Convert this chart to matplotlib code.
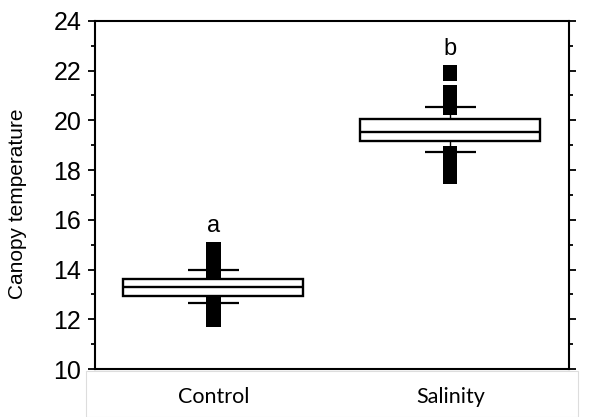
import matplotlib
matplotlib.use("Agg")
import matplotlib.pyplot as plt
from matplotlib.patches import Rectangle
from matplotlib.ticker import MultipleLocator

groups = ['Control', 'Salinity']
q1 = [12.94, 19.17]
medians = [13.31, 19.53]
q3 = [13.62, 20.05]
whisk_lo = [12.66, 18.74]
whisk_hi = [13.97, 20.55]
# dense outlier columns, drawn as solid black ranges (low, high)
outlier_ranges = [
    [(11.70, 12.94), (13.62, 15.12)],
    [(17.43, 18.98), (20.22, 21.41), (21.60, 22.23)],
]
letters = ['a', 'b']
letter_y = [15.75, 22.85]

pos = [1, 2]
box_w = 0.76
cap_w = 0.215
col_w = 0.06

fig = plt.figure(figsize=(5.98, 4.17), dpi=100)
ax = fig.add_axes([0.159, 0.115, 0.792, 0.835])

for i, x in enumerate(pos):
    # whisker line and caps
    ax.vlines(x, whisk_lo[i], q1[i], color='black', lw=1.0, zorder=1)
    ax.vlines(x, q3[i], whisk_hi[i], color='black', lw=1.0, zorder=1)
    for lo, hi in outlier_ranges[i]:
        ax.bar(x, hi - lo, bottom=lo, width=col_w, color='black', lw=0, zorder=2)
    ax.hlines([whisk_lo[i], whisk_hi[i]], x - cap_w / 2, x + cap_w / 2,
              color='black', lw=1.6, zorder=3)
    ax.add_patch(Rectangle((x - box_w / 2, q1[i]), box_w, q3[i] - q1[i],
                           facecolor='white', edgecolor='black', lw=1.7, zorder=4))
    ax.hlines(medians[i], x - box_w / 2, x + box_w / 2, color='black', lw=1.7, zorder=5)
    ax.text(x, letter_y[i], letters[i], ha='center', va='center',
            fontsize=17, family='Liberation Sans')

ax.set_xlim(0.5, 2.5)
ax.set_ylim(10, 24)
ax.set_xticks(pos)
ax.set_xticklabels(groups, fontsize=15.5, family='Lato')
ax.tick_params(axis='x', length=0, pad=13)
ax.yaxis.set_major_locator(MultipleLocator(2))
ax.yaxis.set_minor_locator(MultipleLocator(1))
ax.tick_params(axis='y', which='both', direction='out', right=True, width=1.3)
ax.tick_params(axis='y', which='major', length=5, labelsize=18, pad=5)
ax.tick_params(axis='y', which='minor', length=3)
for lab in ax.get_yticklabels():
    lab.set_family('Liberation Sans')
ax.set_ylabel('Canopy temperature', fontsize=15, family='Liberation Sans')
ax.yaxis.set_label_coords(-0.143, 0.474)
for s in ax.spines.values():
    s.set_linewidth(1.5)

# faint frame below the plot
fig.add_artist(Rectangle((86 / 598, 0), 492 / 598, 46 / 417, transform=fig.transFigure,
                         facecolor='none', edgecolor='#dddddd', lw=0.8, zorder=-1))

fig.savefig('out.png', dpi=100)
